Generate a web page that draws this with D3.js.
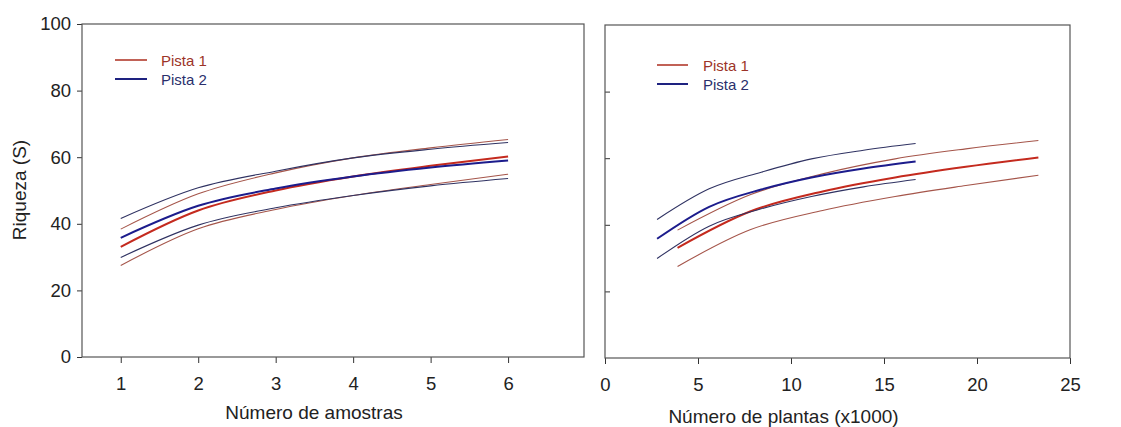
<!DOCTYPE html>
<html>
<head>
<meta charset="utf-8">
<script src="https://cdn.jsdelivr.net/npm/d3@7"></script>
<style>
  body { margin: 0; background: #fff; }
  svg { font-family: "Liberation Sans", Arial, sans-serif; }
</style>
</head>
<body>
<div class="chart"></div>
<script>

const samples = [1, 2, 3, 4, 5, 6];
// cumulative plants (x1000) for each sample
const plants1 = [3.9, 7.8, 11.7, 15.6, 19.4, 23.3];
const plants2 = [2.8, 5.6, 8.4, 11.1, 13.9, 16.7];

// Pista 1
const mean1 = [33.1, 44.0, 50.0, 54.2, 57.4, 60.2];
const upper1 = [38.4, 49.0, 55.3, 59.8, 62.8, 65.3];
const lower1 = [27.5, 38.5, 44.3, 48.5, 51.8, 54.9];
// Pista 2
const mean2 = [35.8, 45.4, 50.6, 54.2, 56.9, 59.0];
const upper2 = [41.6, 50.8, 55.8, 59.8, 62.4, 64.4];
const lower2 = [29.9, 39.6, 44.8, 48.5, 51.4, 53.6];

const seriesNames = ['Pista 1', 'Pista 2'];
const yTicks = [0, 20, 40, 60, 80, 100];
const xTicksLeft = [1, 2, 3, 4, 5, 6];
const xTicksRight = [0, 5, 10, 15, 20, 25];

const width = 1121;
const height = 427;

const svg = d3.select('.chart')
    .append('svg')
    .attr('width', width)
    .attr('height', height);

const styles = [
    { mean: '#c42a1e', ci: '#a5554a', legend: '#b23a2c', text: '#9c3328' },
    { mean: '#1c1c8c', ci: '#2f3262', legend: '#1e2280', text: '#2a2f6c' }
];

drawPanel({
    left: 82, right: 584, top: 24, bottom: 357,
    xDomain: [0.5, 6.98], xTicks: xTicksLeft,
    xs: [samples, samples],
    title: 'Número de amostras', titleY: 419,
    yLabels: true,
    legend: { x1: 115, x2: 147, tx: 161, y: 60 }
});

drawPanel({
    left: 605, right: 1070, top: 25, bottom: 358,
    xDomain: [0, 25], xTicks: xTicksRight,
    xs: [plants1, plants2],
    title: 'Número de plantas (x1000)', titleY: 423,
    yLabels: false,
    legend: { x1: 657, x2: 688, tx: 703, y: 65 }
});

svg.append('text')
    .attr('transform', 'translate(26, 190) rotate(-90)')
    .attr('text-anchor', 'middle')
    .attr('font-size', 19)
    .attr('fill', '#222')
    .text('Riqueza (S)');


function drawPanel(p) {

    let x = d3.scaleLinear()
        .domain(p.xDomain)
        .range([p.left, p.right]);

    let y = d3.scaleLinear()
        .domain([0, 100])
        .range([p.bottom, p.top]);

    let g = svg.append('g');

    // x axis
    let xAxis = g.append('g')
        .attr('transform', `translate(0, ${p.bottom})`)
        .call(d3.axisBottom(x)
            .tickValues(p.xTicks)
            .tickFormat(d3.format('d'))
            .tickSize(6)
            .tickPadding(14)
            .tickSizeOuter(0));
    xAxis.select('.domain').remove();
    xAxis.selectAll('line').attr('stroke', '#333');
    xAxis.selectAll('text')
        .attr('font-size', 18.5)
        .attr('fill', '#222')
        .attr('font-family', '"Liberation Sans", Arial, sans-serif');

    // y axis
    let yAxis;
    if (p.yLabels) {
        yAxis = g.append('g')
            .attr('transform', `translate(${p.left}, 0)`)
            .call(d3.axisLeft(y).tickValues(yTicks).tickSize(5).tickPadding(6).tickSizeOuter(0));
        yAxis.selectAll('text')
            .attr('font-size', 18.5)
            .attr('fill', '#222')
            .attr('font-family', '"Liberation Sans", Arial, sans-serif');
    } else {
        yAxis = g.append('g')
            .attr('transform', `translate(${p.left}, 0)`)
            .call(d3.axisRight(y).tickValues(yTicks.slice(1, -1)).tickSize(5).tickFormat('').tickSizeOuter(0));
    }
    yAxis.select('.domain').remove();
    yAxis.selectAll('line').attr('stroke', '#333');

    // frame
    g.append('rect')
        .attr('x', p.left)
        .attr('y', p.top)
        .attr('width', p.right - p.left)
        .attr('height', p.bottom - p.top)
        .attr('fill', 'none')
        .attr('stroke', '#555')
        .attr('stroke-width', 1.2);

    let sets = [
        [lower1, upper1, mean1],
        [lower2, upper2, mean2]
    ];

    let line = d3.line()
        .x((d) => x(d[0]))
        .y((d) => y(d[1]))
        .curve(d3.curveMonotoneX);

    sets.forEach((set, i) => {
        set.forEach((vals, j) => {
            let pts = vals.map((v, k) => [p.xs[i][k], v]);
            let isMean = j === 2;
            g.append('path')
                .attr('d', line(pts))
                .attr('fill', 'none')
                .attr('stroke', isMean ? styles[i].mean : styles[i].ci)
                .attr('stroke-width', isMean ? 2 : 1.1);
        });
    });

    // legend
    seriesNames.forEach((name, i) => {
        let ly = p.legend.y + i * 19;
        g.append('line')
            .attr('x1', p.legend.x1)
            .attr('x2', p.legend.x2)
            .attr('y1', ly)
            .attr('y2', ly)
            .attr('stroke', styles[i].legend)
            .attr('stroke-width', i === 0 ? 1.6 : 2);
        g.append('text')
            .attr('x', p.legend.tx)
            .attr('y', ly + 5.5)
            .attr('font-size', 15)
            .attr('fill', styles[i].text)
            .text(name);
    });

    // axis title
    g.append('text')
        .attr('x', (p.left + p.right) / 2 + (p.yLabels ? -19 : -54))
        .attr('y', p.titleY)
        .attr('text-anchor', 'middle')
        .attr('font-size', 19)
        .attr('fill', '#222')
        .text(p.title);
}

</script>
</body>
</html>
